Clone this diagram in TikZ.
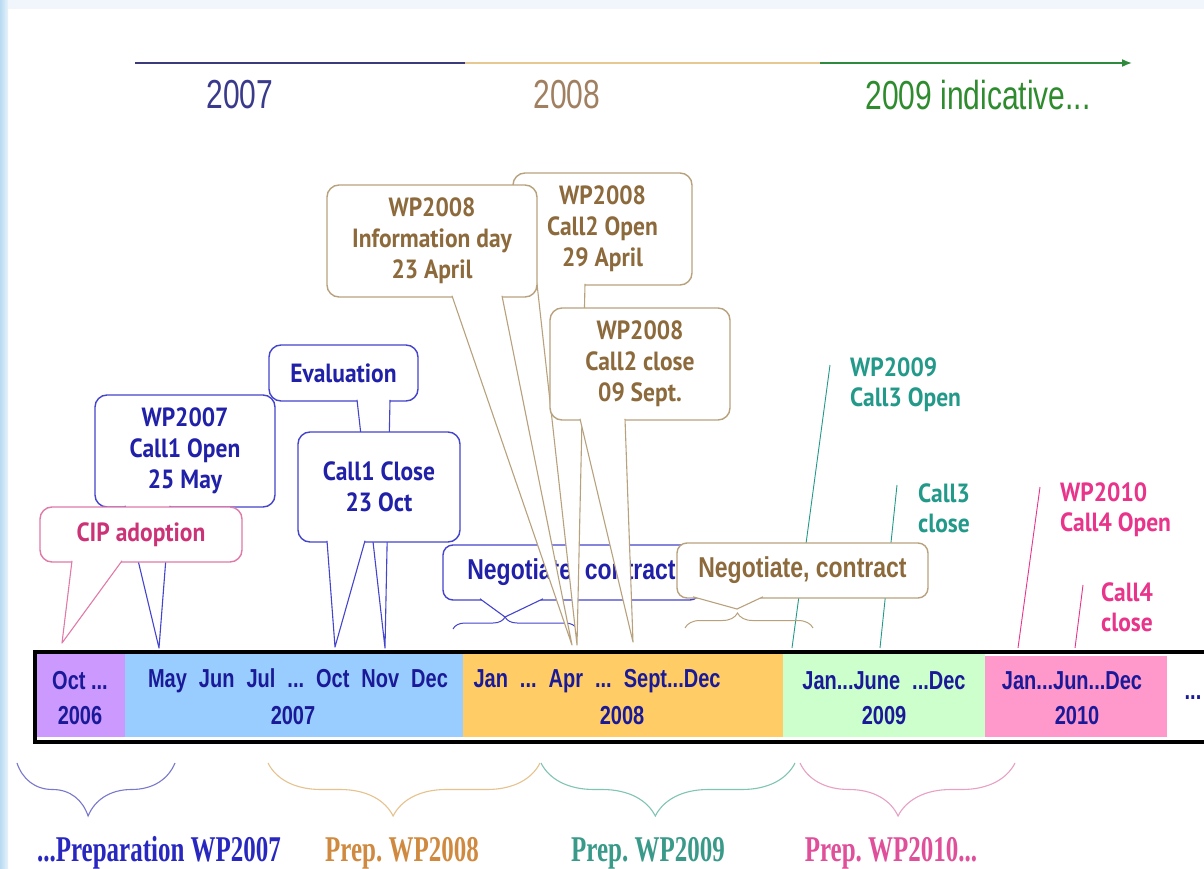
\documentclass[tikz,border=0pt]{standalone}
\usepackage{fontspec}
\usepackage{graphicx}
\usetikzlibrary{arrows.meta,decorations.pathreplacing}
\newfontfamily\arialf{Liberation Sans}
\newfontfamily\calf{PT Sans}
\newfontfamily\timesf{Liberation Serif}
\newcommand\vst[2]{\scalebox{1}[#1]{#2}}
\newcommand\cs[1]{\scalebox{1}[1.12]{#1}}
\newcommand\bsp{\hspace{12pt}}
\frenchspacing
\definecolor{cBlueB}{HTML}{4444CC}
\definecolor{cBlueT}{HTML}{2020A8}
\definecolor{cBrownB}{HTML}{B8A27E}
\definecolor{cBrownT}{HTML}{8C6A3C}
\definecolor{cPinkB}{HTML}{E07AA8}
\definecolor{cPinkT}{HTML}{CC3377}
\definecolor{cTeal}{HTML}{23998A}
\definecolor{cPinkL}{HTML}{E8348A}
\definecolor{cPur}{HTML}{CC99FF}
\definecolor{cLB}{HTML}{99CCFF}
\definecolor{cOr}{HTML}{FFCC66}
\definecolor{cLG}{HTML}{CCFFCC}
\definecolor{cPk}{HTML}{FF99CC}
\definecolor{cNavy}{HTML}{1A1A99}
\definecolor{c07}{HTML}{3A3A8C}
\definecolor{c08}{HTML}{A08060}
\definecolor{c09}{HTML}{2E8B2E}
\definecolor{a07}{HTML}{3B3B7B}
\definecolor{a08}{HTML}{E6C890}
\definecolor{a09}{HTML}{2E8B3E}
\definecolor{b07}{HTML}{2828C0}
\definecolor{b08}{HTML}{D08A40}
\definecolor{b09}{HTML}{3A9A8A}
\definecolor{b10}{HTML}{E0509A}
\definecolor{br07}{HTML}{7878CC}
\definecolor{br08}{HTML}{E6C28E}
\definecolor{br09}{HTML}{80C4B4}
\definecolor{br10}{HTML}{E8A0C4}
\definecolor{bgL}{HTML}{B8DAF2}
\definecolor{bgR}{HTML}{E8F3FB}
\definecolor{bgT}{HTML}{F0F6FC}
\begin{document}
\begin{tikzpicture}[x=1pt,y=-1pt,
  box/.style={draw, fill=white, rounded corners=12pt, line width=1.4pt, inner sep=0pt, outer sep=0pt, align=center, font=\calf\bfseries\fontsize{23.5}{31}\selectfont},
  bbox/.style={box, draw=cBlueB, text=cBlueT},
  nbox/.style={box, draw=cBrownB, text=cBrownT},
  pbox/.style={box, draw=cPinkB, text=cPinkT},
  ptr/.style={fill=white, line width=1.1pt, line join=round},
  barlbl/.style={text=cNavy, font=\arialf\bfseries\fontsize{20}{24}\selectfont, inner sep=0pt},
  toplbl/.style={font=\arialf\fontsize{30}{34}\selectfont, inner sep=0pt},
  botlbl/.style={font=\timesf\bfseries\fontsize{25}{30}\selectfont, inner sep=0pt},
  tlbl/.style={font=\calf\bfseries\fontsize{23.5}{30}\selectfont, align=left, inner sep=0pt, anchor=west},
  brc/.style={decorate, line width=1.1pt},
  neg/.style={rounded corners=10pt, font=\arialf\bfseries\fontsize{23}{28}\selectfont}
]
\useasboundingbox (0,0) rectangle (1204,869);
% background
\fill[white] (0,0) rectangle (1204,869);
\shade[left color=bgL, right color=bgR] (0,0) rectangle (8,869);
\fill[bgT] (8,0) rectangle (1204,9);

% top arrow
\coordinate (a0) at (135,63);
\coordinate (a1) at (465,63);
\coordinate (a2) at (820,63);
\coordinate (a3) at (1132,63);
\draw[a07, line width=1.6pt] (a0) -- (a1);
\draw[a08, line width=1.6pt] (a1) -- (a2);
\draw[a09, line width=1.6pt, -{Latex[length=10pt,width=8pt]}] (a2) -- (a3);
\node[toplbl, text=c07] (y07) at (240,95) {\vst{1.35}{2007}};
\node[toplbl, text=c08] (y08) at (567,95) {\vst{1.35}{2008}};
\node[toplbl, text=c09] (y09) at (978,95) {\vst{1.35}{2009 indicative...}};

% timeline bar
\draw[line width=4pt, line join=miter] (1220,652) -- (35,652) -- (35,742) -- (1220,742);
\fill[cPur] (37,654) rectangle (125,737);
\fill[cLB] (125,654) rectangle (463,737);
\fill[cOr] (463,654) rectangle (783,737);
\fill[cLG] (783,654) rectangle (985,737);
\fill[cPk] (985,656) rectangle (1167,737);
\node[barlbl] (m06) at (80,681) {\vst{1.3}{Oct ...}};
\node[barlbl] (yy06) at (80,716) {\vst{1.3}{2006}};
\node[barlbl] (m07) at (298,681) {\vst{1.3}{May\bsp Jun\bsp Jul\bsp ...\bsp Oct\bsp Nov\bsp Dec}};
\node[barlbl] (yy07) at (293,716) {\vst{1.3}{2007}};
\node[barlbl] (m08) at (597,681) {\vst{1.3}{Jan\bsp ...\bsp Apr\bsp ...\bsp Sept...Dec}};
\node[barlbl] (yy08) at (622,716) {\vst{1.3}{2008}};
\node[barlbl] (m09) at (884,681) {\vst{1.3}{Jan...June\bsp ...Dec}};
\node[barlbl] (yy09) at (884,716) {\vst{1.3}{2009}};
\node[barlbl] (m10) at (1072,681) {\vst{1.3}{Jan...Jun...Dec}};
\node[barlbl] (yy10) at (1077,716) {\vst{1.3}{2010}};
\node[barlbl] (dots) at (1193,698) {\vst{1.3}{...}};

% bottom braces and labels
\draw[brc, br07, decoration={brace, mirror, amplitude=53pt, aspect=0.45}] (17,763) -- (175,763);
\draw[brc, br08, decoration={brace, mirror, amplitude=53pt, aspect=0.46}] (268,763) -- (540,763);
\draw[brc, br09, decoration={brace, mirror, amplitude=53pt, aspect=0.45}] (541,763) -- (795,763);
\draw[brc, br10, decoration={brace, mirror, amplitude=53pt, aspect=0.456}] (800,763) -- (1015,763);
\node[botlbl, text=b07] (p07) at (159,853) {\vst{1.45}{...Preparation WP2007}};
\node[botlbl, text=b08] (p08) at (402,853) {\vst{1.45}{Prep. WP2008}};
\node[botlbl, text=b09] (p09) at (648,853) {\vst{1.45}{Prep. WP2009}};
\node[botlbl, text=b10] (p10) at (891,853) {\vst{1.45}{Prep. WP2010...}};

% teal / pink markers
\coordinate (l1a) at (830,365);
\coordinate (l1b) at (792,648);
\coordinate (l2a) at (897,485);
\coordinate (l2b) at (880,648);
\coordinate (l3a) at (1040,487);
\coordinate (l3b) at (1018,648);
\coordinate (l4a) at (1083,585);
\coordinate (l4b) at (1075,648);
\draw[cTeal, line width=0.9pt] (l1a) -- (l1b);
\draw[cTeal, line width=0.9pt] (l2a) -- (l2b);
\draw[cPinkL, line width=0.9pt] (l3a) -- (l3b);
\draw[cPinkL, line width=0.9pt] (l4a) -- (l4b);
\node[tlbl, text=cTeal] (w09) at (850,385) {\cs{WP2009}\\\cs{Call3 Open}};
\node[tlbl, text=cTeal] (c3c) at (918,508) {\cs{Call3}\\\cs{close}};
\node[tlbl, text=cPinkL] (w10) at (1060,510) {\cs{WP2010}\\\cs{Call4 Open}};
\node[tlbl, text=cPinkL] (c4c) at (1101,607) {\cs{Call4}\\\cs{close}};

% small braces
\draw[brc, cBlueB, line width=1pt, decoration={brace, amplitude=12pt, aspect=0.42}] (453,629) -- (577,629);
\draw[brc, cBrownB, line width=1pt, decoration={brace, amplitude=15pt, aspect=0.41}] (685,628) -- (813,628);

% callouts 2007
\node[bbox, minimum width=180pt, minimum height=112pt] (wp07) at (185,451) {\cs{WP2007}\\\cs{Call1 Open}\\\cs{25 May}};
\coordinate (t07) at (159,648);
\filldraw[ptr, draw=cBlueB] ([xshift=-60pt,yshift=1.2pt]wp07.south) -- (t07) -- ([xshift=-15pt,yshift=1.2pt]wp07.south);

\node[pbox, minimum width=202pt, minimum height=55pt] (cip) at (141,534.5) {\cs{CIP adoption}};
\coordinate (tcip) at (62,643);
\filldraw[ptr, draw=cPinkB] ([xshift=-69pt,yshift=1.2pt]cip.south) -- (tcip) -- ([xshift=-19pt,yshift=1.2pt]cip.south);

\node[bbox, minimum width=149pt, minimum height=56pt] (eval) at (343.5,373) {\cs{Evaluation}};
\coordinate (tev) at (385,648);
\filldraw[ptr, draw=cBlueB] ([xshift=13.5pt,yshift=1.2pt]eval.south) -- (tev) -- ([xshift=46.5pt,yshift=1.2pt]eval.south);

\node[bbox, minimum width=162pt, minimum height=110pt] (c1c) at (379,487) {\cs{Call1 Close}\\\cs{23 Oct}};
\coordinate (tc1c) at (335,647);
\filldraw[ptr, draw=cBlueB] ([xshift=-52pt,yshift=1.2pt]c1c.south) -- (tc1c) -- ([xshift=-14pt,yshift=1.2pt]c1c.south);

% negotiate callouts
\node[bbox, neg, text=cBlueT, minimum width=257pt, minimum height=55pt] (negB) at (571.5,572.5) {\vst{1.25}{Negotiate, contract}};
\coordinate (tnb) at (505,617);
\filldraw[ptr, draw=cBlueB] ([xshift=-91.5pt,yshift=1.2pt]negB.south) -- (tnb) -- ([xshift=-28.5pt,yshift=1.2pt]negB.south);

\node[nbox, neg, minimum width=251pt, minimum height=55pt] (negN) at (802.5,570.5) {\vst{1.25}{Negotiate, contract}};
\coordinate (tnn) at (737,609);
\filldraw[ptr, draw=cBrownB] ([xshift=-109.5pt,yshift=1.2pt]negN.south) -- (tnn) -- ([xshift=-39.5pt,yshift=1.2pt]negN.south);

% callouts 2008
\node[nbox, minimum width=179pt, minimum height=112pt] (c2o) at (602.5,229) {\cs{WP2008}\\\cs{Call2 Open}\\\cs{29 April}};
\coordinate (tc2o) at (577,645);
\filldraw[ptr, draw=cBrownB] ([xshift=-65.5pt,yshift=1.2pt]c2o.south) -- (tc2o) -- ([xshift=-17.5pt,yshift=1.2pt]c2o.south);

\node[nbox, minimum width=210pt, minimum height=112pt] (info) at (432,241) {\cs{WP2008}\\\cs{Information day}\\\cs{23 April}};
\coordinate (tinfo) at (572,645);
\filldraw[ptr, draw=cBrownB] ([xshift=20pt,yshift=1.2pt]info.south) -- (tinfo) -- ([xshift=70pt,yshift=1.2pt]info.south);

\node[nbox, minimum width=180pt, minimum height=112pt] (c2c) at (640,364) {\cs{WP2008}\\\cs{Call2 close}\\\cs{09 Sept.}};
\coordinate (tc2c) at (633,642);
\filldraw[ptr, draw=cBrownB] ([xshift=-60pt,yshift=1.2pt]c2c.south) -- (tc2c) -- ([xshift=-15pt,yshift=1.2pt]c2c.south);
\end{tikzpicture}
\end{document}
